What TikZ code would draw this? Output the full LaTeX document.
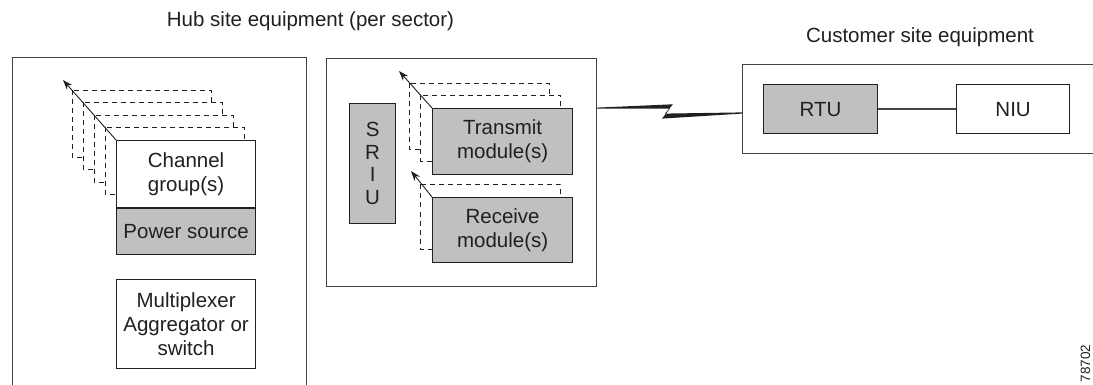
\documentclass[tikz,border=0pt]{standalone}
\usepackage{fontspec}
\setmainfont{Liberation Sans}
\usetikzlibrary{arrows.meta}
\definecolor{boxgray}{RGB}{192,192,192}
\definecolor{ink}{RGB}{35,31,32}

\tikzset{
  unit/.style={draw=ink, line width=1.2pt, inner sep=0pt, anchor=north west, align=center, text=ink, font=\fontsize{20.5}{24}\selectfont},
  shaded/.style={unit, fill=boxgray},
  site/.style={draw=ink!85, line width=1.3pt, inner sep=0pt, anchor=north west},
  ghost/.style={draw=ink, line width=0.9pt, dash pattern=on 5pt off 4pt, fill=white},
  tilt/.style={draw=ink, line width=0.9pt, -{Stealth[length=10pt,width=7pt]}},
  caption/.style={anchor=base, text=ink, font=\fontsize{20.5}{24}\selectfont},
}

\begin{document}
\begin{tikzpicture}[x=1pt, y=-1pt]
\useasboundingbox (0,0) rectangle (1093,385);
\clip (0,0) rectangle (1093,385);

\node[caption] (hubtitle) at (310.5,27) {Hub site equipment (per sector)};
\node[caption] (custtitle) at (920,43) {Customer site equipment};

\node[site, minimum width=294pt, minimum height=345pt] (hubA) at (12,57) {};
\node[site, minimum width=270pt, minimum height=228pt] (hubB) at (326,58) {};
\node[site, minimum width=400pt, minimum height=89pt] (cust) at (742,64) {};

% channel groups, stacked
\foreach \k in {4,3,2,1}
  \draw[ghost] ({116-11*\k},{140-12.5*\k}) rectangle ++(139,67);
\node[unit, fill=white, minimum width=139pt, minimum height=67pt] (chan) at (116,140) {Channel\\group(s)};
\node[shaded, minimum width=139pt, minimum height=46pt] (power) at (chan.south west) {Power source};
\coordinate (chantip) at (63,80);
\draw[tilt] (chan.north west) -- (chantip);

\node[unit, fill=white, minimum width=139pt, minimum height=89pt] (mux) at (116,279) {Multiplexer\\Aggregator or\\switch};

% sector modules
\node[shaded, minimum width=46pt, minimum height=120pt, font=\fontsize{20.5}{22.5}\selectfont] (sriu) at (349,103) {S\\R\\I\\U};

\foreach \k in {2,1}
  \draw[ghost] ({432-11.5*\k},{108-12.5*\k}) rectangle ++(140,66);
\node[shaded, minimum width=140pt, minimum height=66pt] (tx) at (432,108) {Transmit\\module(s)};
\coordinate (txtip) at (399,71);
\draw[tilt] (tx.north west) -- (txtip);

\draw[ghost] (420.5,184.5) rectangle ++(140,65);
\node[shaded, minimum width=140pt, minimum height=65pt] (rx) at (432,197) {Receive\\module(s)};
\coordinate (rxtip) at (411,171);
\draw[tilt] (rx.north west) -- (rxtip);

% radio link
\fill[ink] (597,107.6) -- (673,104.3) -- (665,113.6) -- (742,112.4) -- (742,113.6)
  -- (662,118.6) -- (670,108.6) -- (597,108.6) -- cycle;

% customer side
\node[shaded, minimum width=114pt, minimum height=49pt] (rtu) at (763,84) {RTU};
\node[unit, fill=white, minimum width=113pt, minimum height=49pt] (niu) at (956,84) {NIU};
\draw[draw=ink!85, line width=1.2pt] (rtu.east) -- (niu.west);

\node[rotate=90, anchor=base east, text=ink, font=\fontsize{13.5}{16}\selectfont] (fignum) at (1090,341) {78702};

\end{tikzpicture}
\end{document}
